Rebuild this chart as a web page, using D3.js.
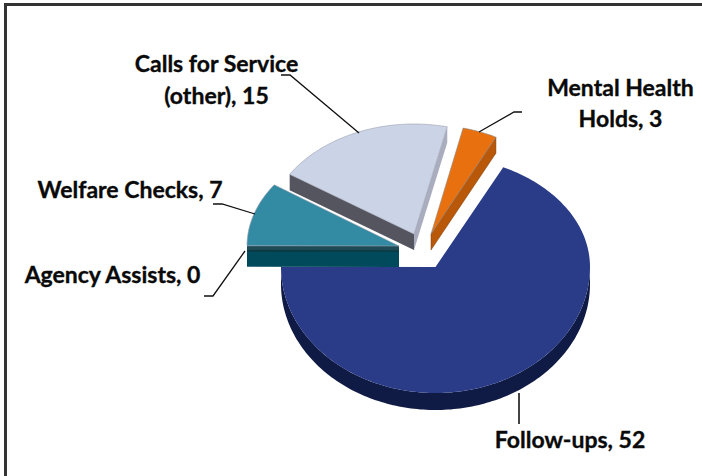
<!DOCTYPE html>
<html><head><meta charset="utf-8">
<script src="https://cdn.jsdelivr.net/npm/d3@7"></script>
<style>html,body{margin:0;padding:0;background:#fff;overflow:hidden}svg{display:block}
text{font-family:Lato,"Open Sans",sans-serif;font-weight:700;fill:#0a0a0a;stroke:#0a0a0a;stroke-width:.35px;font-size:23px;text-anchor:middle}</style>
</head><body><div id="c"></div>
<script>
const categories = ["Follow-ups","Agency Assists","Welfare Checks","Calls for Service (other)","Mental Health Holds"];
const values = [52,0,7,15,3];
const labelLines = [["Follow-ups, 52"],["Agency Assists, 0"],["Welfare Checks, 7"],["Calls for Service","(other), 15"],["Mental Health","Holds, 3"]];
const topColors = ["#2a3b87","#1e4a56","#338aa3","#cbd3e6","#e8700e"];
const wallColors = ["#0f1a45","#004a5c","#1e4a56","#55555f","#b85808"];
const sideColors = ["#0f1a45","#004a5c","#1e4a56","#a9adbe","#b85808"];

const W=702,H=476;
// projected centre and radii of each exploded slice
const geom = [
 {cx:435.5,cy:267,rx:154.5,ryT:111,ryB:126,d:17,startAdj:-1,endAdj:0},
 {cx:399,cy:251,rx:152,ryT:112,ryB:112,d:16,startAdj:0,endAdj:0},
 {cx:399,cy:246,rx:152,ryT:107,ryB:107,d:16,startAdj:0,endAdj:2},
 {cx:414,cy:234,rx:148,ryT:110,ryB:110,d:16,startAdj:0,endAdj:0},
 {cx:431,cy:234,rx:143,ryT:108.7,ryB:108.7,d:16,startAdj:0,endAdj:0}
];
const leaders = [
 [[519,393],[519,424]],
 [[204,296],[213,296],[245,251]],
 [[213,204],[222,204],[255,214]],
 [[281,75],[290,75],[359,133]],
 [[522,112],[514,112],[479,132]]
];
const labelPos = [
 {x:570,y:[448]},{x:112.5,y:[283]},{x:130,y:[198]},{x:216.5,y:[72,104]},{x:620.5,y:[96,127]}
];

const svg=d3.select("#c").append("svg").attr("width",W).attr("height",H);
svg.append("path").attr("d",`M5.5,${H}V4.5H${W}`).attr("fill","none").attr("stroke","#333").attr("stroke-width",3);

const start=27*Math.PI/180, rad=Math.PI/180;
const arcs=d3.pie().sort(null).startAngle(start).endAngle(start+2*Math.PI)(values);
const pt=(g,a)=>{const c=Math.cos(a);return [g.cx+g.rx*Math.sin(a), g.cy-(c>0?g.ryT:g.ryB)*c];};
const line=d3.line();
const samples=(a0,a1)=>{const n=Math.max(1,Math.ceil(Math.abs(a1-a0)/0.02));return d3.range(n+1).map(i=>a0+(a1-a0)*i/n);};

function drawSlice(i){
  const d=arcs[i],g=geom[i],a0=d.startAngle+g.startAdj*rad,a1=d.endAngle+g.endAdj*rad;
  const grp=svg.append("g");
  const centre=[g.cx,g.cy];
  const down=p=>[p[0],p[1]+g.d];
  const lo=Math.max(a0,Math.PI/2),hi=Math.min(a1,3*Math.PI/2);
  if(hi>lo){
    const upper=samples(lo,hi).map(a=>pt(g,a));
    grp.append("path").attr("d",line(upper.concat(upper.slice().reverse().map(down)))+"Z")
      .attr("fill",wallColors[i]);
  }
  const pa=pt(g,a0),pb=pt(g,a1);
  if(i===1||i===2){
    grp.append("path").attr("d",line([pa,centre,down(centre),down(pa)])+"Z").attr("fill",wallColors[i]);
  }
  if(i===1){
    grp.append("path").attr("d",line([pa,centre])).attr("stroke","#0c3038").attr("stroke-width",1.2).attr("fill","none");
  }
  if(i===3){
    grp.append("path").attr("d",line([pa,centre,down(centre),down(pa)])+"Z").attr("fill",wallColors[i]);
    grp.append("path").attr("d",line([pb,centre,down(centre),down(pb)])+"Z").attr("fill",sideColors[i]);
  }
  if(i===4){
    grp.append("path").attr("d",line([pb,centre,down(centre),down(pb)])+"Z").attr("fill",wallColors[i]).attr("stroke","#7a3d08").attr("stroke-width",.5);
  }
  if(a1>a0){
    const rim=samples(a0,a1).map(a=>pt(g,a));
    grp.append("path").attr("d",line([centre].concat(rim))+"Z")
      .attr("fill",topColors[i])
      .attr("stroke",i===0?"none":i===4?"#8a8a8a":"#9a9fae").attr("stroke-width",i===0?0:.6);
  }
}
[0,2,1,3,4].forEach(drawSlice);

leaders.forEach((l,i)=>svg.append("path").attr("d",line(l)).attr("fill","none")
  .attr("stroke",i===0?"#444":"#111").attr("stroke-width",i===0?2:1.3));

labelLines.forEach((ls,i)=>ls.forEach((t,j)=>svg.append("text")
  .attr("x",labelPos[i].x).attr("y",labelPos[i].y[j]).text(t)));
</script></body></html>
